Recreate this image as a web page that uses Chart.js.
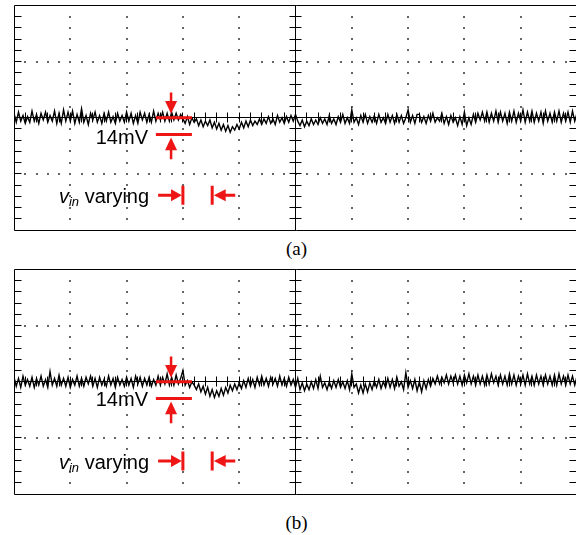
<!DOCTYPE html>
<html>
<head>
<meta charset="utf-8">
<script src="https://cdn.jsdelivr.net/npm/chart.js@4.4.1/dist/chart.umd.min.js"></script>
<style>
html,body{margin:0;padding:0;background:#fff;}
#wrap{position:relative;width:576px;height:535px;overflow:hidden;background:#fff;}
canvas{position:absolute;left:0;}
.lbl{position:absolute;left:0;width:593px;text-align:center;font-family:"Liberation Serif","Times New Roman",serif;font-size:19px;line-height:19px;color:#000;}
</style>
</head>
<body>
<div id="wrap">
  <canvas id="chartA" width="580" height="234" style="top:0px"></canvas>
  <div class="lbl" style="top:239px">(a)</div>
  <canvas id="chartB" width="580" height="234" style="top:264px"></canvas>
  <div class="lbl" style="top:513px">(b)</div>
</div>
<script>
// ---------- DATA (ripple in mV, 10 horizontal divisions, 50 mV/div) ----------
const timeDivisions = [0, 10];
const voltRange = [-100, 100];          // mV
const majorX = [1, 2, 3, 4, 6, 7, 8, 9];
const majorY = [-50, 50];

const rippleA = [
  4,-4,5,-3,2,-5,1,-4,6,-3,
  3,-5,4,-2,5,-4,2,-3,6,-5,
  4,-5,7,-3,5,-3,6,-5,3,-4,
  8,-4,2,-6,4,-2,5,-4,2,-5,
  4,-3,5,-4,1,-5,4,-3,2,-4,
  5,-3,4,-5,2,-5,5,-2,4,-4,
  3,-4,6,-3,4,-2,5,-3,4,-3,
  5,-2,4,-2,3,
  -1,-5,1,-6,0,
  -4,-1,-7,-2,-8,-3,-7,-2,-9,-4,
  -10,-5,-11,-6,-12,-7,-13,-8,-11,-6,
  -10,-4,-9,-3,-8,-2,-7,-3,-6,-1,
  -6,-1,-5,1,-5,-1,-6,2,-4,0,
  -5,1,-4,2,-3,3,
  -3,-7,-2,-8,-3,-7,-1,-6,-2,-6,0,-5,-1,-6,
  2,-5,-1,-6,1,-4,3,-5,0,-5,
  7,-4,0,-6,2,-4,3,-5,1,-4,
  2,-5,3,-4,0,-5,3,-4,2,-5,
  3,-4,2,-5,0,7,-4,2,-5,3,
  3,-4,1,-5,2,-3,4,-4,0,-3,
  4,-5,1,-6,2,-4,0,-7,1,-6,
  5,-7,0,-6,3,-4,4,-2,5,-3,
  5,-4,4,-3,6,-4,5,-3,4,-5,
  5,-3,6,-4,4,-3,7,-4,5,-3,
  6,-4,4,-3,5,-5,6,-3,4,-4,
  5,-3,6,-4,4,-3,5,-4,6,-3,4
];

const rippleB = [
  4,-4,3,-5,5,-3,2,-4,4,-5,
  3,-3,5,-4,2,-5,9,-3,3,-4,
  6,-3,3,-4,4,-5,2,-3,5,-4,
  3,-4,4,-2,5,-4,3,-5,4,-3,
  2,-4,5,-3,3,-5,4,-3,2,-4,
  4,-3,3,-5,5,-2,4,-4,3,-3,
  4,-4,2,-3,5,-3,4,-2,7,-3,
  4,-3,6,-2,3,
  10,-3,1,-5,0,
  -3,-7,-2,-9,-4,-11,-5,-13,-7,-14,
  -8,-13,-6,-12,-5,-10,-3,-8,-2,-7,
  -1,-6,1,-5,3,-4,2,-5,4,-3,
  5,-3,3,-4,4,-2,3,-4,5,-3,
  3,-4,4,-3,2,-5,
  3,-7,-1,-8,-2,-7,0,-6,2,-6,
  5,-5,-1,-7,0,-6,1,-5,2,-5,
  0,-6,1,-7,7,-5,-2,-10,-3,-10,
  -2,-9,-1,-7,1,-5,2,-6,0,-5,
  3,-5,2,-6,4,-4,0,-7,8,-5,
  1,-6,2,-8,0,-9,1,-6,2,-4,
  3,-2,5,-2,4,-1,6,-2,5,-1,
  6,-2,5,-3,6,-1,7,-2,5,-3,
  6,-2,5,-3,6,-2,7,-1,5,-3,
  6,-2,5,-3,7,-2,6,-3,5,-2,
  6,-3,7,-2,5,-3,6,-2,5,-3,
  6,-2,5,-3,6,-3,7,-2,5,-3,
  6,-2,5,-3,5
];

const stepLabel = "14mV";
const varyLabelMain = "v";
const varyLabelSub = "in";
const varyLabelRest = " varying";

// annotation anchors (data units: x in divisions, y in mV)
const annotA = {barX:[2.52,3.16], barTopY:0, barBotY:-15, arrowX:2.79,
  downShaft:22.5, downBase:15, downTip:3.5, upTip:-17.5, upBase:-29, upShaft:-37,
  textRight:2.38, textBaseY:-23, rowY:-69, rowTextRight:2.40,
  rShaft:2.56, rBase:2.79, rTip:2.98, rBar:3.0, lBar:3.52, lTip:3.55, lBase:3.76, lShaft:3.93, barHalf:8.5};
const annotB = Object.assign({}, annotA, {textBaseY:-21.5, rowY:-70.5});

// ---------- plugins ----------
const crisp = v => Math.floor(v) + 0.5;

const graticule = {
  id: 'graticule',
  beforeDatasetsDraw(chart) {
    const {ctx, chartArea: a, scales: {x, y}} = chart;
    ctx.save();
    ctx.fillStyle = '#666';
    const dot = (px, py) => ctx.fillRect(Math.round(px) - 1, Math.round(py) - 1, 2, 2);
    for (const mx of majorX) {
      const px = x.getPixelForValue(mx);
      for (let k = 1; k < 20; k++) dot(px, y.getPixelForValue(voltRange[0] + k * 10));
    }
    for (const my of majorY) {
      const py = y.getPixelForValue(my);
      for (let k = 1; k < 50; k++) dot(x.getPixelForValue(k * 0.2), py);
    }
    ctx.strokeStyle = '#000';
    ctx.lineWidth = 1;
    ctx.beginPath();
    ctx.moveTo(crisp(a.left), crisp(a.top)); ctx.lineTo(a.right + 2, crisp(a.top));
    ctx.moveTo(crisp(a.left), crisp(a.bottom)); ctx.lineTo(a.right + 2, crisp(a.bottom));
    ctx.moveTo(crisp(a.left), crisp(a.top)); ctx.lineTo(crisp(a.left), crisp(a.bottom));
    ctx.moveTo(crisp(a.right), crisp(a.top)); ctx.lineTo(crisp(a.right), crisp(a.bottom));
    const cx = crisp(x.getPixelForValue(5)), cy = crisp(y.getPixelForValue(0));
    ctx.moveTo(cx, crisp(a.top)); ctx.lineTo(cx, crisp(a.bottom));
    ctx.moveTo(crisp(a.left), cy); ctx.lineTo(a.right + 2, cy);
    for (let k = 1; k < 20; k++) {
      const py = crisp(y.getPixelForValue(voltRange[0] + k * 10));
      ctx.moveTo(crisp(a.left), py); ctx.lineTo(crisp(a.left) + 7, py);
      ctx.moveTo(crisp(a.right), py); ctx.lineTo(crisp(a.right) - 8, py);
      ctx.moveTo(cx - 6, py); ctx.lineTo(cx + 6, py);
    }
    for (let k = 1; k < 50; k++) {
      const px = crisp(x.getPixelForValue(k * 0.2));
      ctx.moveTo(px, cy - 5); ctx.lineTo(px, cy + 5);
    }
    ctx.stroke();
    ctx.restore();
  }
};

function makeAnnot(cfg) {
  return {
    id: 'annot',
    afterDatasetsDraw(chart) {
      const {ctx, scales: {x, y}} = chart;
      const X = v => x.getPixelForValue(v), Y = v => y.getPixelForValue(v);
      const red = '#ee1515';
      ctx.save();
      ctx.strokeStyle = red; ctx.fillStyle = red;
      ctx.lineWidth = 3;
      ctx.beginPath();
      ctx.moveTo(X(cfg.barX[0]), Y(cfg.barTopY)); ctx.lineTo(X(cfg.barX[1]), Y(cfg.barTopY));
      ctx.moveTo(X(cfg.barX[0]), Y(cfg.barBotY)); ctx.lineTo(X(cfg.barX[1]), Y(cfg.barBotY));
      ctx.stroke();
      const ax = X(cfg.arrowX);
      ctx.lineWidth = 2.5;
      ctx.beginPath();
      ctx.moveTo(ax, Y(cfg.downShaft)); ctx.lineTo(ax, Y(cfg.downBase) + 1);
      ctx.moveTo(ax, Y(cfg.upShaft)); ctx.lineTo(ax, Y(cfg.upBase) - 1);
      ctx.stroke();
      const tri = (p1, p2, p3) => { ctx.beginPath(); ctx.moveTo(...p1); ctx.lineTo(...p2); ctx.lineTo(...p3); ctx.closePath(); ctx.fill(); };
      tri([ax - 6, Y(cfg.downBase)], [ax + 6, Y(cfg.downBase)], [ax, Y(cfg.downTip)]);
      tri([ax - 6, Y(cfg.upBase)], [ax + 6, Y(cfg.upBase)], [ax, Y(cfg.upTip)]);
      const ry = Y(cfg.rowY);
      ctx.lineWidth = 3;
      ctx.beginPath();
      ctx.moveTo(X(cfg.rShaft), ry); ctx.lineTo(X(cfg.rBase) + 1, ry);
      ctx.moveTo(X(cfg.lShaft), ry); ctx.lineTo(X(cfg.lBase) - 1, ry);
      ctx.stroke();
      tri([X(cfg.rBase), ry - 6], [X(cfg.rBase), ry + 6], [X(cfg.rTip), ry]);
      tri([X(cfg.lBase), ry - 6], [X(cfg.lBase), ry + 6], [X(cfg.lTip), ry]);
      ctx.lineWidth = 3;
      ctx.beginPath();
      ctx.moveTo(X(cfg.rBar), ry - cfg.barHalf - 1); ctx.lineTo(X(cfg.rBar), ry + cfg.barHalf + 1);
      ctx.moveTo(X(cfg.lBar), ry - cfg.barHalf - 1); ctx.lineTo(X(cfg.lBar), ry + cfg.barHalf + 1);
      ctx.stroke();
      ctx.fillStyle = '#000';
      ctx.textBaseline = 'alphabetic';
      ctx.textAlign = 'right';
      ctx.font = '20px "Liberation Sans", Arial, sans-serif';
      ctx.fillText(stepLabel, X(cfg.textRight), Y(cfg.textBaseY));
      const base = ry + 8;
      const right = X(cfg.rowTextRight);
      ctx.textAlign = 'left';
      const wRest = ctx.measureText(varyLabelRest).width;
      ctx.font = 'italic 13px "Liberation Sans", Arial, sans-serif';
      const wSub = ctx.measureText(varyLabelSub).width;
      ctx.font = 'italic 20px "Liberation Sans", Arial, sans-serif';
      const wMain = ctx.measureText(varyLabelMain).width;
      let sx = right - wRest - wSub - wMain;
      ctx.fillText(varyLabelMain, sx, base);
      sx += wMain;
      ctx.font = 'italic 13px "Liberation Sans", Arial, sans-serif';
      ctx.fillText(varyLabelSub, sx, base + 3);
      sx += wSub;
      ctx.font = '20px "Liberation Sans", Arial, sans-serif';
      ctx.fillText(varyLabelRest, sx, base);
      ctx.restore();
    }
  };
}

function makeScope(id, values, cfg) {
  const n = values.length;
  const pts = values.map((v, i) => ({x: timeDivisions[0] + i * (timeDivisions[1] - timeDivisions[0]) / (n - 1), y: v}));
  return new Chart(document.getElementById(id), {
    type: 'line',
    data: {datasets: [{data: pts, borderColor: '#000', borderWidth: 1.4, pointRadius: 0, tension: 0, fill: false}]},
    options: {
      responsive: false, animation: false, devicePixelRatio: 1, events: [],
      layout: {padding: {left: 14, top: 5.5, right: 3, bottom: 4}},
      plugins: {legend: {display: false}, tooltip: {enabled: false}, title: {display: false}},
      scales: {
        x: {type: 'linear', min: timeDivisions[0], max: timeDivisions[1], display: false},
        y: {type: 'linear', min: voltRange[0], max: voltRange[1], display: false}
      }
    },
    plugins: [graticule, makeAnnot(cfg)]
  });
}

makeScope('chartA', rippleA, annotA);
makeScope('chartB', rippleB, annotB);
</script>
</body>
</html>
